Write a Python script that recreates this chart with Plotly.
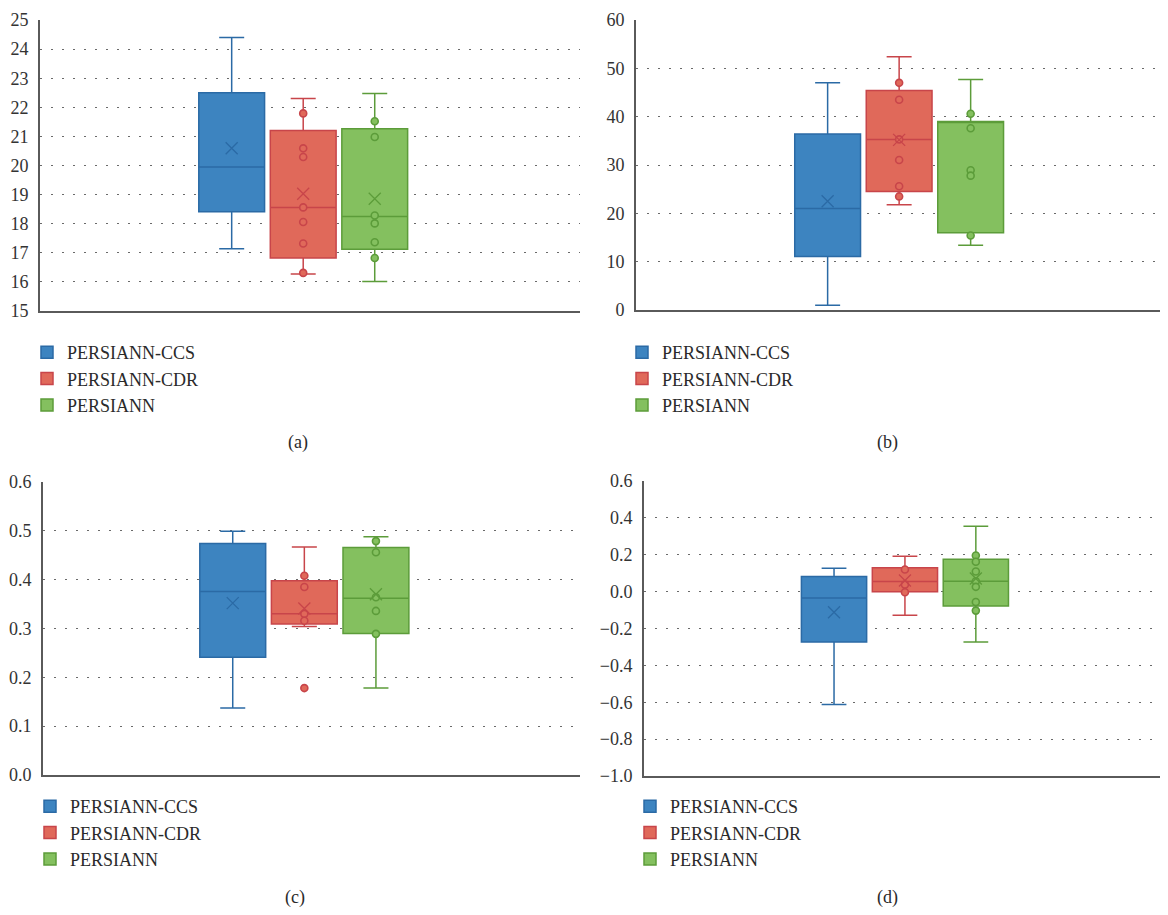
import plotly.graph_objects as go

SERIES = ["PERSIANN-CCS", "PERSIANN-CDR", "PERSIANN"]
CAPTIONS = ["(a)", "(b)", "(c)", "(d)"]

# ---- panel (a) ----
A_Q1 = [18.41, 16.82, 17.12]
A_MED = [19.95, 18.56, 18.25]
A_Q3 = [22.50, 21.20, 21.26]
A_LO = [17.14, 16.27, 16.01]
A_HI = [24.40, 22.30, 22.47]
A_MEAN = [20.59, 19.03, 18.86]
A_PTS = [[], [21.79, 20.59, 20.29, 18.56, 18.06, 17.32, 16.31],
         [21.52, 20.98, 18.28, 18.01, 17.36, 16.82]]

# ---- panel (b) ----
B_Q1 = [11.05, 24.5, 16.0]
B_MED = [21.0, 35.3, 39.0]
B_Q3 = [36.4, 45.4, 39.0]
B_LO = [1.0, 21.8, 13.4]
B_HI = [47.0, 52.4, 47.7]
B_MEAN = [22.5, 35.2, None]
B_PTS = [[], [47.0, 43.5, 35.3, 31.05, 25.6, 23.5],
         [40.6, 37.6, 28.9, 27.8, 15.4]]

# ---- panel (c) ----
C_Q1 = [0.241, 0.309, 0.290]
C_MED = [0.376, 0.330, 0.362]
C_Q3 = [0.474, 0.398, 0.466]
C_LO = [0.137, 0.304, 0.178]
C_HI = [0.499, 0.467, 0.488]
C_MEAN = [0.352, 0.341, 0.370]
C_PTS = [[], [0.408, 0.385, 0.330, 0.316, 0.178],
         [0.479, 0.456, 0.364, 0.336, 0.289]]

# ---- panel (d) ----
D_Q1 = [-0.273, 0.0, -0.078]
D_MED = [-0.034, 0.055, 0.056]
D_Q3 = [0.082, 0.129, 0.176]
D_LO = [-0.612, -0.128, -0.273]
D_HI = [0.127, 0.192, 0.355]
D_MEAN = [-0.112, 0.060, 0.071]
D_PTS = [[], [0.120, 0.038, -0.003],
         [0.196, 0.162, 0.109, 0.056, 0.026, -0.056, -0.103]]

Y_RANGES = [(15, 25, 1, "d"), (0, 60, 10, "d"), (0, 0.6, 0.1, ".1f"), (-1.0, 0.6, 0.2, ".1f")]

PANELS = [
    (A_Q1, A_MED, A_Q3, A_LO, A_HI, A_MEAN, A_PTS),
    (B_Q1, B_MED, B_Q3, B_LO, B_HI, B_MEAN, B_PTS),
    (C_Q1, C_MED, C_Q3, C_LO, C_HI, C_MEAN, C_PTS),
    (D_Q1, D_MED, D_Q3, D_LO, D_HI, D_MEAN, D_PTS),
]

FILLS = ["#3d84c0", "#e0695a", "#84c05f"]
EDGES = ["#2b6aa5", "#c8454a", "#5c9c3a"]

# page body has an 8px margin: the figure starts at (8, 8) of the window
OFF = 8
W, H = 1168 - OFF, 915 - OFF
FONT = "Liberation Serif, Times New Roman, serif"


def fx(px):
    return (px - OFF) / W


def fy(py):
    return 1 - (py - OFF) / H


# pixel layout of each panel in window coords: (x0, x1, ytop, ybottom)
PIX = [(40, 580, 20, 311), (636, 1168, 20, 310), (43, 580, 482, 775), (644, 1168, 481, 776)]
XR = [(-3.68, 3.87), (-3.68, 3.76), (-3.65, 3.85), (-3.68, 3.71)]
POS = [-1, 0, 1]
LEG = [(27, 334), (622, 334), (30, 788), (630, 788)]
CAP = [(298, 443), (887, 443), (295, 897), (887, 897)]

fig = go.Figure()
layout = dict(
    width=W, height=H, margin=dict(l=0, r=0, t=0, b=0, autoexpand=False),
    paper_bgcolor="white", plot_bgcolor="white",
    font=dict(family=FONT, size=18, color="#2a2a2a"),
    showlegend=True, annotations=[],
)

for p, (q1, med, q3, lo, hi, mean, pts) in enumerate(PANELS):
    ax = "" if p == 0 else str(p + 1)
    xa, ya = "x" + ax, "y" + ax
    leg = "legend" + ax
    for i in range(3):
        fig.add_trace(go.Box(
            x=[POS[i]], q1=[q1[i]], median=[med[i]], q3=[q3[i]],
            lowerfence=[lo[i]], upperfence=[hi[i]],
            width=0.92, whiskerwidth=0.38,
            fillcolor=FILLS[i], line=dict(color=EDGES[i], width=1.5),
            boxpoints=False, name=SERIES[i], legend=leg, legendgroup=f"{p}{i}",
            xaxis=xa, yaxis=ya, hoverinfo="skip",
        ))
        if pts[i]:
            fig.add_trace(go.Scatter(
                x=[POS[i]] * len(pts[i]), y=pts[i], mode="markers",
                marker=dict(symbol="circle", size=7, color=FILLS[i],
                            line=dict(color=EDGES[i], width=1.6)),
                showlegend=False, xaxis=xa, yaxis=ya, hoverinfo="skip",
            ))
        if mean[i] is not None:
            fig.add_trace(go.Scatter(
                x=[POS[i]], y=[mean[i]], mode="markers",
                marker=dict(symbol="x-thin", size=12,
                            line=dict(color=EDGES[i], width=1.3)),
                showlegend=False, xaxis=xa, yaxis=ya, hoverinfo="skip",
            ))

    x0, x1, yt, yb = PIX[p]
    y0v, y1v, dt, fmt = Y_RANGES[p]
    layout["xaxis" + ax] = dict(
        domain=[fx(x0), min(fx(x1), 1.0)], range=list(XR[p]), anchor=ya,
        showline=True, linecolor="#5a5a5a", linewidth=2,
        showticklabels=False, showgrid=False, zeroline=False, ticks="",
        automargin=False,
    )
    layout["yaxis" + ax] = dict(
        domain=[fy(yb), fy(yt)], range=[y0v, y1v], anchor=xa,
        dtick=dt, tick0=y0v, tickformat=fmt,
        showline=True, linecolor="#5a5a5a", linewidth=2,
        showgrid=True, gridcolor="#6a6a6a", gridwidth=1.3, griddash="2px,9px",
        zeroline=False, ticks="", ticklabelstandoff=6, automargin=False,
        ticklabeloverflow="allow",
        tickfont=dict(family=FONT, size=18, color="#333333"),
    )
    lx, ly = LEG[p]
    layout["legend" + ax] = dict(
        x=fx(lx), y=fy(ly), xanchor="left", yanchor="top",
        font=dict(family=FONT, size=18, color="#2a2a2a"),
        bgcolor="rgba(0,0,0,0)", tracegroupgap=2, traceorder="normal",
    )
    cx, cy = CAP[p]
    layout["annotations"].append(dict(
        text=CAPTIONS[p], x=fx(cx), y=fy(cy), xref="paper", yref="paper",
        showarrow=False, font=dict(family=FONT, size=18, color="#2a2a2a"),
        xanchor="center", yanchor="middle",
    ))

fig.update_layout(**layout)
fig.write_html("out.html")
